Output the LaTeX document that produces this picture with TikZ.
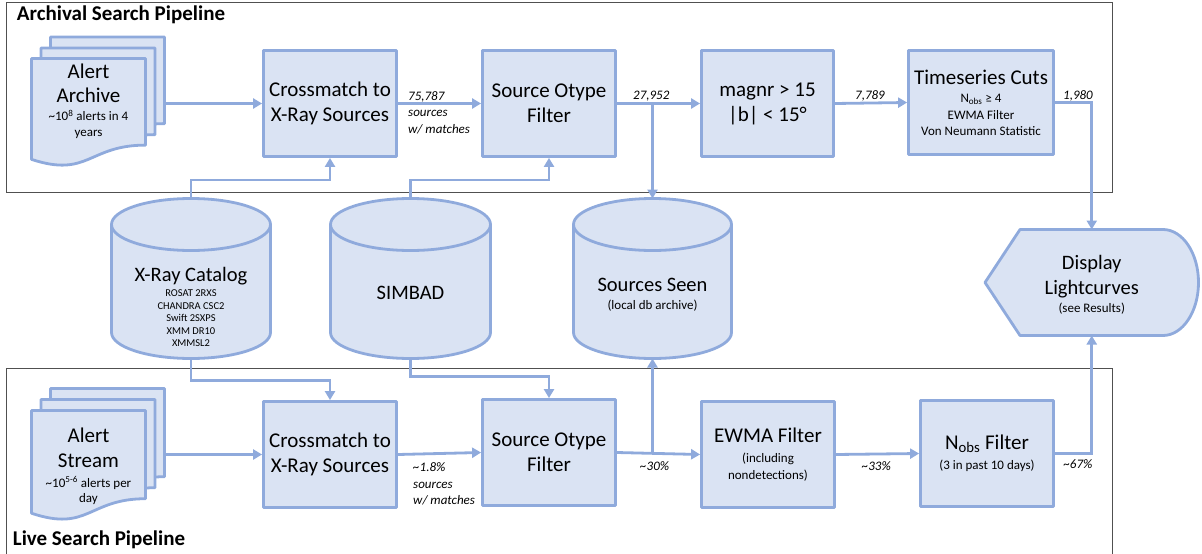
\documentclass[tikz,border=0pt]{standalone}
\usepackage{fontspec}
\setmainfont{Carlito}
\usetikzlibrary{arrows.meta,calc}

\definecolor{edgeblue}{HTML}{8FAADC}
\definecolor{fillblue}{HTML}{DAE3F3}
\definecolor{framegray}{HTML}{505050}

\newcommand\notetextsize{\fontsize{13}{16}\selectfont}
\newcommand\listtextsize{\fontsize{10.5}{12.5}\selectfont}

% stacked flowchart "document" page: top-left x, top-left y, width, height
\newcommand\alertpage[4]{%
  \path[shapefill] (#1,#2) -- ({#1+#3},#2) -- ({#1+#3},{#2+0.802*#4})
    .. controls ({#1+0.5*#3},{#2+0.802*#4}) and ({#1+0.5*#3},{#2+1.1075*#4}) ..
    (#1,{#2+0.934*#4}) -- cycle;}

% database drum: centre x, top y, bottom y, x radius, y radius
\newcommand\dbdrum[5]{%
  \path[shapefill] ({#1-#4},{#2+#5}) -- ({#1-#4},{#3-#5})
    arc[start angle=180,end angle=360,x radius=#4pt,y radius=#5pt]
    -- ({#1+#4},{#2+#5})
    arc[start angle=0,end angle=180,x radius=#4pt,y radius=#5pt] -- cycle;
  \draw[edgeblue,line width=2.8pt] ({#1-#4},{#2+#5})
    arc[start angle=180,end angle=360,x radius=#4pt,y radius=#5pt];}

\tikzset{
  shapefill/.style={draw=edgeblue, fill=fillblue, line width=2.8pt, line join=round},
  stage/.style={shapefill, minimum width=133pt, minimum height=106pt, inner sep=0pt,
    align=center, font=\fontsize{21}{25}\selectfont},
  hull/.style={inner sep=0pt, outer sep=0pt},
  plain/.style={inner sep=0pt, align=center},
  wire/.style={draw=edgeblue, line width=2.8pt},
  flow/.style={wire, -{Triangle[length=9pt,width=10pt]}},
  count/.style={inner sep=0pt, align=left, font=\fontsize{13}{16.5}\selectfont\itshape},
  frame/.style={draw=framegray, line width=1pt},
  paneltitle/.style={inner sep=0pt, anchor=base west, font=\fontsize{21}{25}\selectfont\bfseries},
}

\begin{document}
\begin{tikzpicture}[x=1pt,y=-1pt]
\useasboundingbox (0,0) rectangle (1202,554);

% panel frames
\draw[frame] (6,2) rectangle (1112,192);
\draw[frame] (6,368) rectangle (1112,562);
\node[paneltitle] (archtitle) at (16.7,20) {Archival Search Pipeline};
\node[paneltitle] (livetitle) at (12.7,545.7) {Live Search Pipeline};

% alert archive stack
\alertpage{50.5}{37}{114}{108}
\alertpage{41}{48}{114}{108}
\alertpage{31.5}{58.5}{114}{108}
\node[hull, minimum width=133pt, minimum height=129pt] (arch) at (98,101.5) {};
\node[plain, font=\fontsize{21}{24}\selectfont] (archtxt) at (88.5,101.2)
  {Alert\\Archive\\[-5.6pt]{\notetextsize\textasciitilde10\textsuperscript{8} alerts in 4}\\[-8.7pt]{\notetextsize years}};

% alert stream stack
\alertpage{50.5}{388.5}{114}{110}
\alertpage{41}{399.5}{114}{110}
\alertpage{31.5}{410.5}{114}{110}
\node[hull, minimum width=133pt, minimum height=133pt] (live) at (98,455) {};
\node[plain, font=\fontsize{21}{25}\selectfont] (livetxt) at (88.5,466)
  {Alert\\Stream\\[-5pt]{\notetextsize\textasciitilde10\textsuperscript{5-6} alerts per}\\[-10pt]{\notetextsize day}};

% databases
\dbdrum{191}{198.5}{358.5}{79.5}{26}
\node[hull, minimum width=159pt, minimum height=160pt] (xray) at (191,278.5) {};
\node[plain, font=\fontsize{20.5}{24}\selectfont] (xraytxt) at (191,307)
  {X-Ray Catalog\\[-9pt]{\listtextsize ROSAT 2RXS}\\[-11.5pt]{\listtextsize CHANDRA CSC2}\\[-11.5pt]{\listtextsize Swift 2SXPS}\\[-11.5pt]{\listtextsize XMM DR10}\\[-11.5pt]{\listtextsize XMMSL2}};

\dbdrum{410.5}{198.5}{358.5}{80}{26}
\node[hull, minimum width=160pt, minimum height=160pt] (sim) at (410.5,278.5) {};
\node[plain, font=\fontsize{20.5}{24}\selectfont] (simtxt) at (410.5,293) {SIMBAD};

\dbdrum{652.5}{198.5}{358.5}{79}{26}
\node[hull, minimum width=158pt, minimum height=160pt] (ss) at (652.5,278.5) {};
\node[plain, font=\fontsize{20.5}{24}\selectfont] (sstxt) at (652.5,294.8)
  {Sources Seen\\[-6.4pt]{\notetextsize (local db archive)}};

% results display
\path[shapefill] (985,282.5) -- (1020,229.5) -- (1163,229.5)
  arc[start angle=90,end angle=-90,x radius=35.5pt,y radius=53pt]
  -- (1020,335.5) -- cycle;
\node[hull, minimum width=213.5pt, minimum height=106pt] (disp) at (1091.75,282.5) {};
\node[plain, font=\fontsize{20.5}{25}\selectfont] (disptxt) at (1091.75,284.6)
  {Display\\Lightcurves\\[-6.6pt]{\notetextsize (see Results)}};

% archival stages
\node[stage] (cm1) at (330,103.5) {Crossmatch to\\X-Ray Sources};
\node[stage] (so1) at (549,103.5) {Source Otype\\Filter};
\node[stage, minimum width=132pt] (mag) at (767.5,103.5) {magnr > 15\\|b| < 15°};
\node[stage, minimum width=145pt, minimum height=104pt] (ts) at (981,102.5)
  {Timeseries Cuts\\[-6.7pt]{\notetextsize N\textsubscript{obs} ≥ 4}\\[-8.3pt]{\notetextsize EWMA Filter}\\[-9pt]{\notetextsize Von Neumann Statistic}};

% live stages
\node[stage] (cm2) at (330,454.5) {Crossmatch to\\X-Ray Sources};
\node[stage] (so2) at (549,452.5) {Source Otype\\Filter};
\node[stage] (ewma) at (768,454.5)
  {EWMA Filter\\[-5pt]{\notetextsize (including}\\[-8pt]{\notetextsize nondetections)}};
\node[stage] (nobs) at (987,453.5)
  {N\textsubscript{obs} Filter\\[-5pt]{\notetextsize (3 in past 10 days)}};

% junctions of the catalogue feeds
\coordinate (j1) at ($(cm1.south)+(0,22)$);
\coordinate (j2) at ($(so1.south)+(0,22)$);
\coordinate (j3) at ($(cm2.north)+(0,-20)$);
\coordinate (j4) at ($(so2.north)+(0,-22)$);

% archival flow
\draw[flow] (arch.east |- cm1.west) -- (cm1.west);
\draw[flow] (cm1.east) -- (so1.west);
\draw[flow] (so1.east) -- (mag.west);
\draw[flow] (so1.east -| ss.north) -- (ss.north);
\draw[flow] (mag.east) -- (ts.west);
\draw[flow] (ts.east) -| (disp.north);
\draw[flow] (xray.north) |- (j1) -- (cm1.south);
\draw[flow] (sim.north) |- (j2) -- (so1.south);

% live flow
\draw[flow] (live.east |- cm2.west) -- (cm2.west);
\draw[flow] (cm2.east) -- (so2.west);
\draw[flow] (so2.east) -- (ewma.west);
\draw[flow] (so2.east -| ss.south) -- (ss.south);
\draw[flow] (ewma.east) -- (nobs.west);
\draw[flow] (nobs.east) -| (disp.south);
\draw[flow] (xray.south) |- (j3) -- (cm2.north);
\draw[flow] (sim.south) |- (j4) -- (so2.north);

% counts along the flow
\node[count, anchor=west] (c1) at (408,112.8) {75,787\\sources\\w/ matches};
\node[count, anchor=base west] (c2) at (633,99.5) {27,952};
\node[count, anchor=base west] (c3) at (855,99.5) {7,789};
\node[count, anchor=base west] (c4) at (1063,99.5) {1,980};
\node[count, anchor=west] (c5) at (413,484) {\textasciitilde1.8\%\\sources\\w/ matches};
\node[count, anchor=base west] (c6) at (640,470.7) {\textasciitilde30\%};
\node[count, anchor=base west] (c7) at (861.7,470.7) {\textasciitilde33\%};
\node[count, anchor=base west] (c8) at (1063.3,468.3) {\textasciitilde67\%};
\end{tikzpicture}
\end{document}
